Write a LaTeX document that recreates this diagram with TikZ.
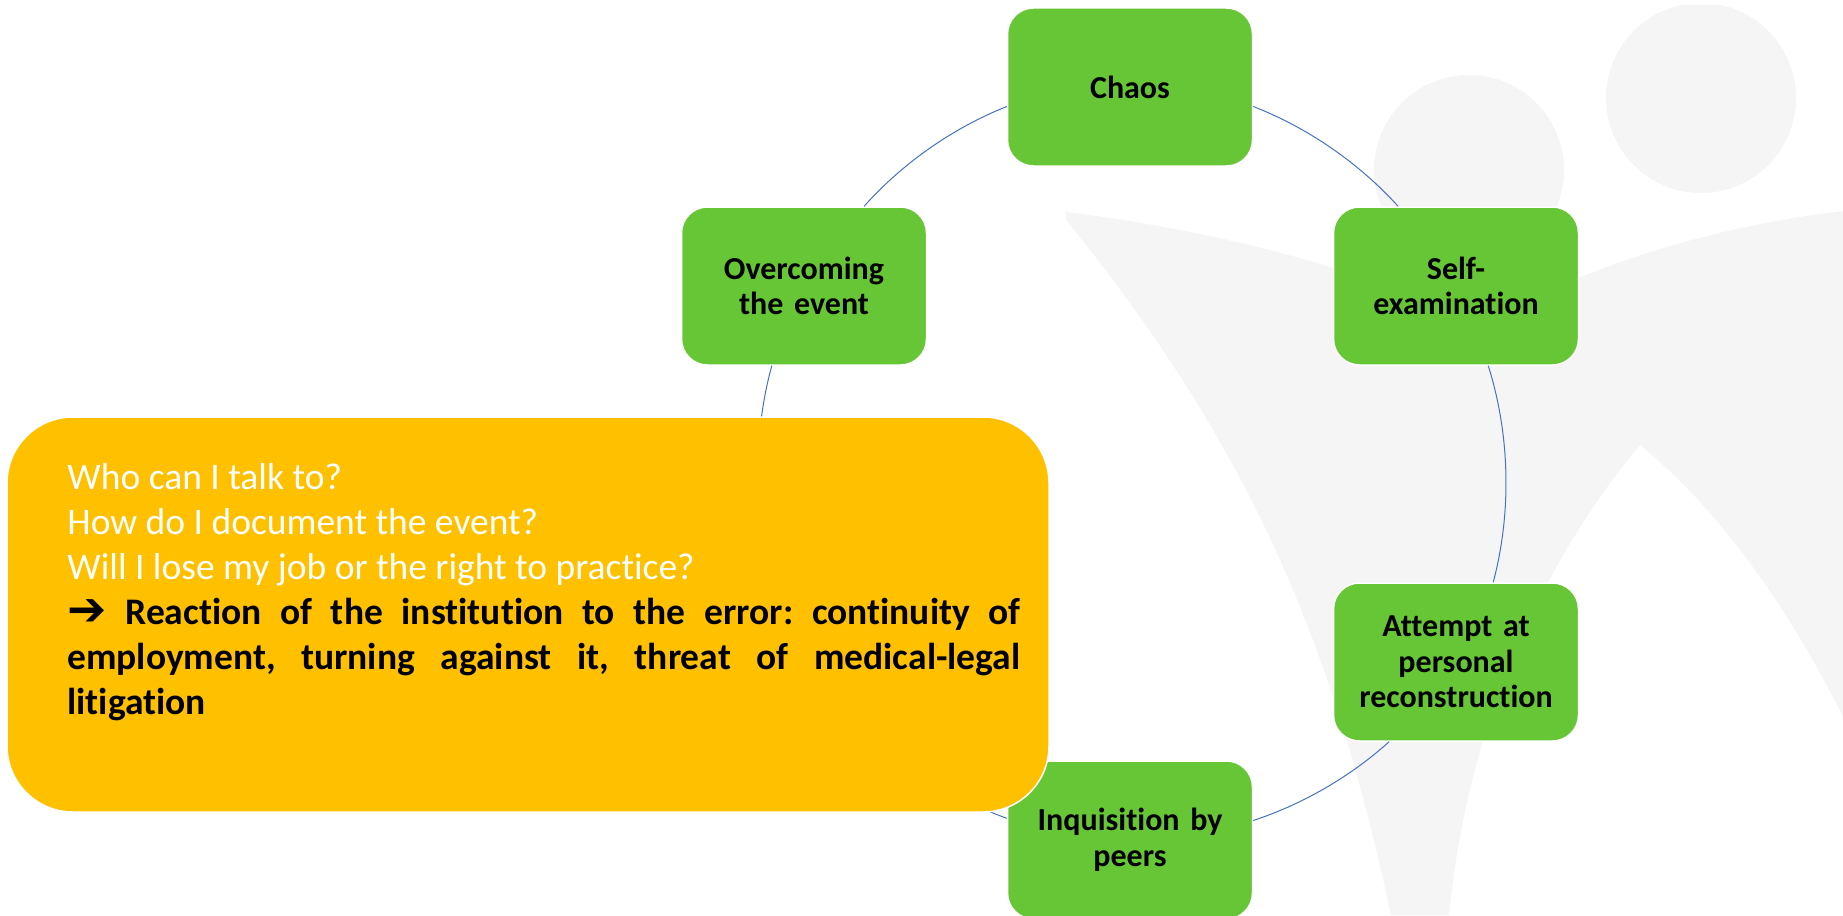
\documentclass[tikz,border=0pt]{standalone}
\usepackage{fontspec}
\setmainfont[Ligatures=NoCommon]{Carlito}
\newfontfamily\stepfont[Ligatures=NoCommon,WordSpace=0.7,BoldFeatures={WordSpace=0.7}]{Carlito}
\newfontfamily\arrowfont{DejaVu Sans}
\definecolor{stepgreen}{HTML}{66C636}
\definecolor{noteyellow}{HTML}{FFC000}
\definecolor{ringblue}{HTML}{4472C4}
\definecolor{markgray}{HTML}{F5F5F5}
\tikzset{
  stepbox/.style={draw=white,line width=1.5pt,fill=stepgreen,rounded corners=26pt,minimum width=245pt,minimum height=158pt,align=center,font=\stepfont\fontsize{32}{35.5}\selectfont\bfseries,text=black,text width=230pt},
  notebox/.style={draw=white,line width=1.5pt,fill=noteyellow,rounded corners=66pt,minimum width=1042pt,minimum height=395pt},
  notetext/.style={text width=953pt,align=justify,font=\fontsize{37.5}{45}\selectfont\frenchspacing,inner sep=0pt},
  ringline/.style={draw=ringblue,line width=1pt,looseness=0.85}
}
\begin{document}
\begin{tikzpicture}[x=1pt,y=1pt,yscale=-1,xscale=1]
\useasboundingbox (0,0) rectangle (1843,915);

% watermark figures
\begin{scope}
\clip (0,6) rectangle (1843,915);
\fill [markgray] (1469,170) circle (95);
\fill [markgray] (1701,98) circle (95);
\fill [markgray] (1066,212) .. controls (1170,225) and (1260,245) .. (1340,270) -- (1581,277) .. controls (1660,245) and (1750,222) .. (1843,211) -- (1843,717) .. controls (1790,610) and (1720,510) .. (1640,445) .. controls (1560,540) and (1470,700) .. (1449,915) -- (1391,915) .. controls (1340,680) and (1270,470) .. (1066,220) -- cycle ;
\end{scope}

% ring steps
\node [stepbox] (chaos) at (1130,87) {Chaos};
\node [stepbox] (selfexam) at (1456,286) {Self-\\examination};
\node [stepbox] (attempt) at (1456,662) {Attempt at\\personal\\reconstruction};
\node [stepbox] (inquisition) at (1130,840) {Inquisition by\\peers};
\node [stepbox] (overcoming) at (804,286) {Overcoming\\the event};

% ring arcs
\draw [ringline] (chaos.-9.6) to [bend right=13.3] (selfexam.126.5);
\draw [ringline] (selfexam.-68) to [bend right=16.3] (attempt.65.4);
\draw [ringline] (attempt.230.5) to [bend right=11.9] (inquisition.9.6);
\draw [ringline,looseness=0.98] (inquisition.170.4) to [bend right=42.8] (overcoming.248);
\draw [ringline] (overcoming.53.5) to [bend right=13.3] (chaos.189.6);

% note
\node [notebox] (note) at (528,614.5) {};
\node [notetext,anchor=north west,xshift=61pt,yshift=-47pt] (notetext) at (note.north west) {\textcolor{white}{Who can I talk to?}\\
\textcolor{white}{How do I document the event?}\\
\textcolor{white}{Will I lose my job or the right to practice?}\\
\textbf{\raisebox{-1pt}{\scalebox{1.25}{\arrowfont\bfseries ➔}} Reaction of the institution to the error: continuity of\linebreak employment, turning against it, threat of medical-legal\linebreak litigation}};

\end{tikzpicture}
\end{document}
